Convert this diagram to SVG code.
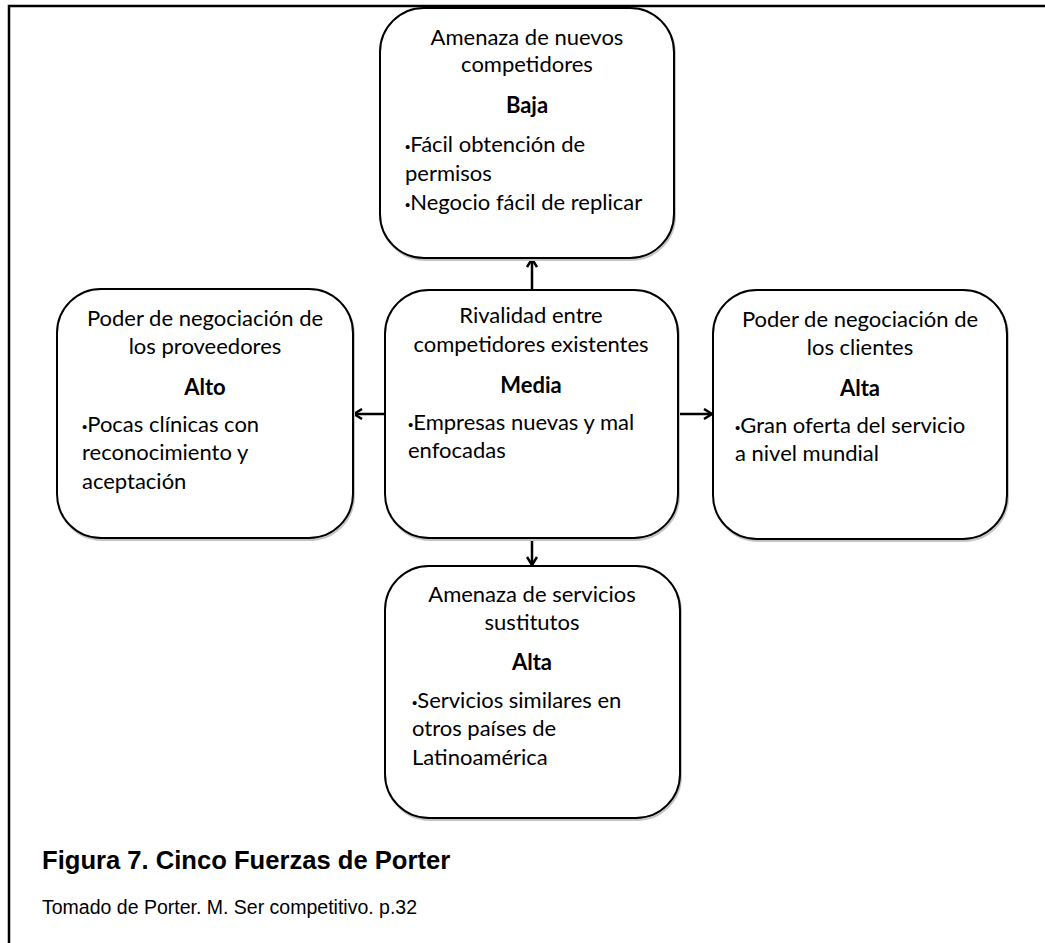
<svg xmlns="http://www.w3.org/2000/svg" width="1045" height="943" viewBox="0 0 1045 943">
  <style>
    .box { fill: #ffffff; stroke: #000000; stroke-width: 2; }
    .shadow { fill: none; stroke: #c4c4c4; stroke-width: 2; }
    .t { font-family: Lato, "Liberation Sans", sans-serif; font-size: 22px; fill: #000000; }
    .c { text-anchor: middle; }
    .b { font-weight: bold; }
    .dot { font-family: "Liberation Sans", sans-serif; font-size: 15px; }
    .edge { stroke: #000000; stroke-width: 2.5; fill: none; marker-end: url(#arrow); }
    .cap { font-family: "Liberation Sans", Arial, sans-serif; fill: #000000; }
  </style>
  <defs>
    <marker id="arrow" viewBox="0 0 12 12" refX="10" refY="6" markerWidth="12" markerHeight="12" markerUnits="userSpaceOnUse" orient="auto">
      <path d="M2,1 L10,6 L2,11" fill="none" stroke="#000000" stroke-width="2.5"/>
    </marker>
  </defs>
  <rect width="1045" height="943" fill="#ffffff"/>

  <!-- page frame -->
  <path d="M9,943 V6 H1045" fill="none" stroke="#000000" stroke-width="2.5"/>

  <!-- connectors -->
  <g id="connectors">
    <line class="edge" x1="532" y1="290" x2="532" y2="259"/>
    <line class="edge" x1="385" y1="414" x2="354" y2="414"/>
    <line class="edge" x1="678" y1="414" x2="712" y2="414"/>
    <line class="edge" x1="532" y1="538" x2="532" y2="565"/>
  </g>

  <g id="nuevos-competidores">
    <rect class="shadow" x="381" y="10" width="294" height="250" rx="44"/>
    <rect class="box" x="380" y="8" width="294" height="250" rx="44"/>
    <text class="t c" x="527" y="45">Amenaza de nuevos</text>
    <text class="t c" x="527" y="72">competidores</text>
    <text class="t c b" x="527" y="113">Baja</text>
    <text class="t" x="405" y="152"><tspan class="dot">•</tspan>Fácil obtención de</text>
    <text class="t" x="405" y="181">permisos</text>
    <text class="t" x="405" y="210"><tspan class="dot">•</tspan>Negocio fácil de replicar</text>
  </g>

  <g id="proveedores">
    <rect class="shadow" x="58" y="291" width="296" height="249" rx="44"/>
    <rect class="box" x="57" y="289" width="296" height="249" rx="44"/>
    <text class="t c" x="205" y="326">Poder de negociación de</text>
    <text class="t c" x="205" y="354">los proveedores</text>
    <text class="t c b" x="205" y="395">Alto</text>
    <text class="t" x="82" y="432"><tspan class="dot">•</tspan>Pocas clínicas con</text>
    <text class="t" x="82" y="460">reconocimiento y</text>
    <text class="t" x="82" y="489">aceptación</text>
  </g>

  <g id="rivalidad">
    <rect class="shadow" x="386" y="292" width="293" height="248" rx="44"/>
    <rect class="box" x="385" y="290" width="293" height="248" rx="44"/>
    <text class="t c" x="531" y="323">Rivalidad entre</text>
    <text class="t c" x="531" y="352">competidores existentes</text>
    <text class="t c b" x="531" y="393">Media</text>
    <text class="t" x="408" y="430"><tspan class="dot">•</tspan>Empresas nuevas y mal</text>
    <text class="t" x="408" y="458">enfocadas</text>
  </g>

  <g id="clientes">
    <rect class="shadow" x="714" y="292" width="294" height="249" rx="44"/>
    <rect class="box" x="713" y="290" width="294" height="249" rx="44"/>
    <text class="t c" x="860" y="327">Poder de negociación de</text>
    <text class="t c" x="860" y="355">los clientes</text>
    <text class="t c b" x="860" y="396">Alta</text>
    <text class="t" x="735" y="433"><tspan class="dot">•</tspan>Gran oferta del servicio</text>
    <text class="t" x="735" y="461">a nivel mundial</text>
  </g>

  <g id="sustitutos">
    <rect class="shadow" x="386" y="568" width="295" height="252" rx="44"/>
    <rect class="box" x="385" y="566" width="295" height="252" rx="44"/>
    <text class="t c" x="532" y="602">Amenaza de servicios</text>
    <text class="t c" x="532" y="630">sustitutos</text>
    <text class="t c b" x="532" y="670">Alta</text>
    <text class="t" x="412" y="708"><tspan class="dot">•</tspan>Servicios similares en</text>
    <text class="t" x="412" y="736">otros países de</text>
    <text class="t" x="412" y="765">Latinoamérica</text>
  </g>

  <!-- caption -->
  <text class="cap" x="42" y="869" font-size="25.6" font-weight="bold">Figura 7. Cinco Fuerzas de Porter</text>
  <text class="cap" x="42" y="914" font-size="19.5">Tomado de Porter. M. Ser competitivo. p.32</text>
</svg>
